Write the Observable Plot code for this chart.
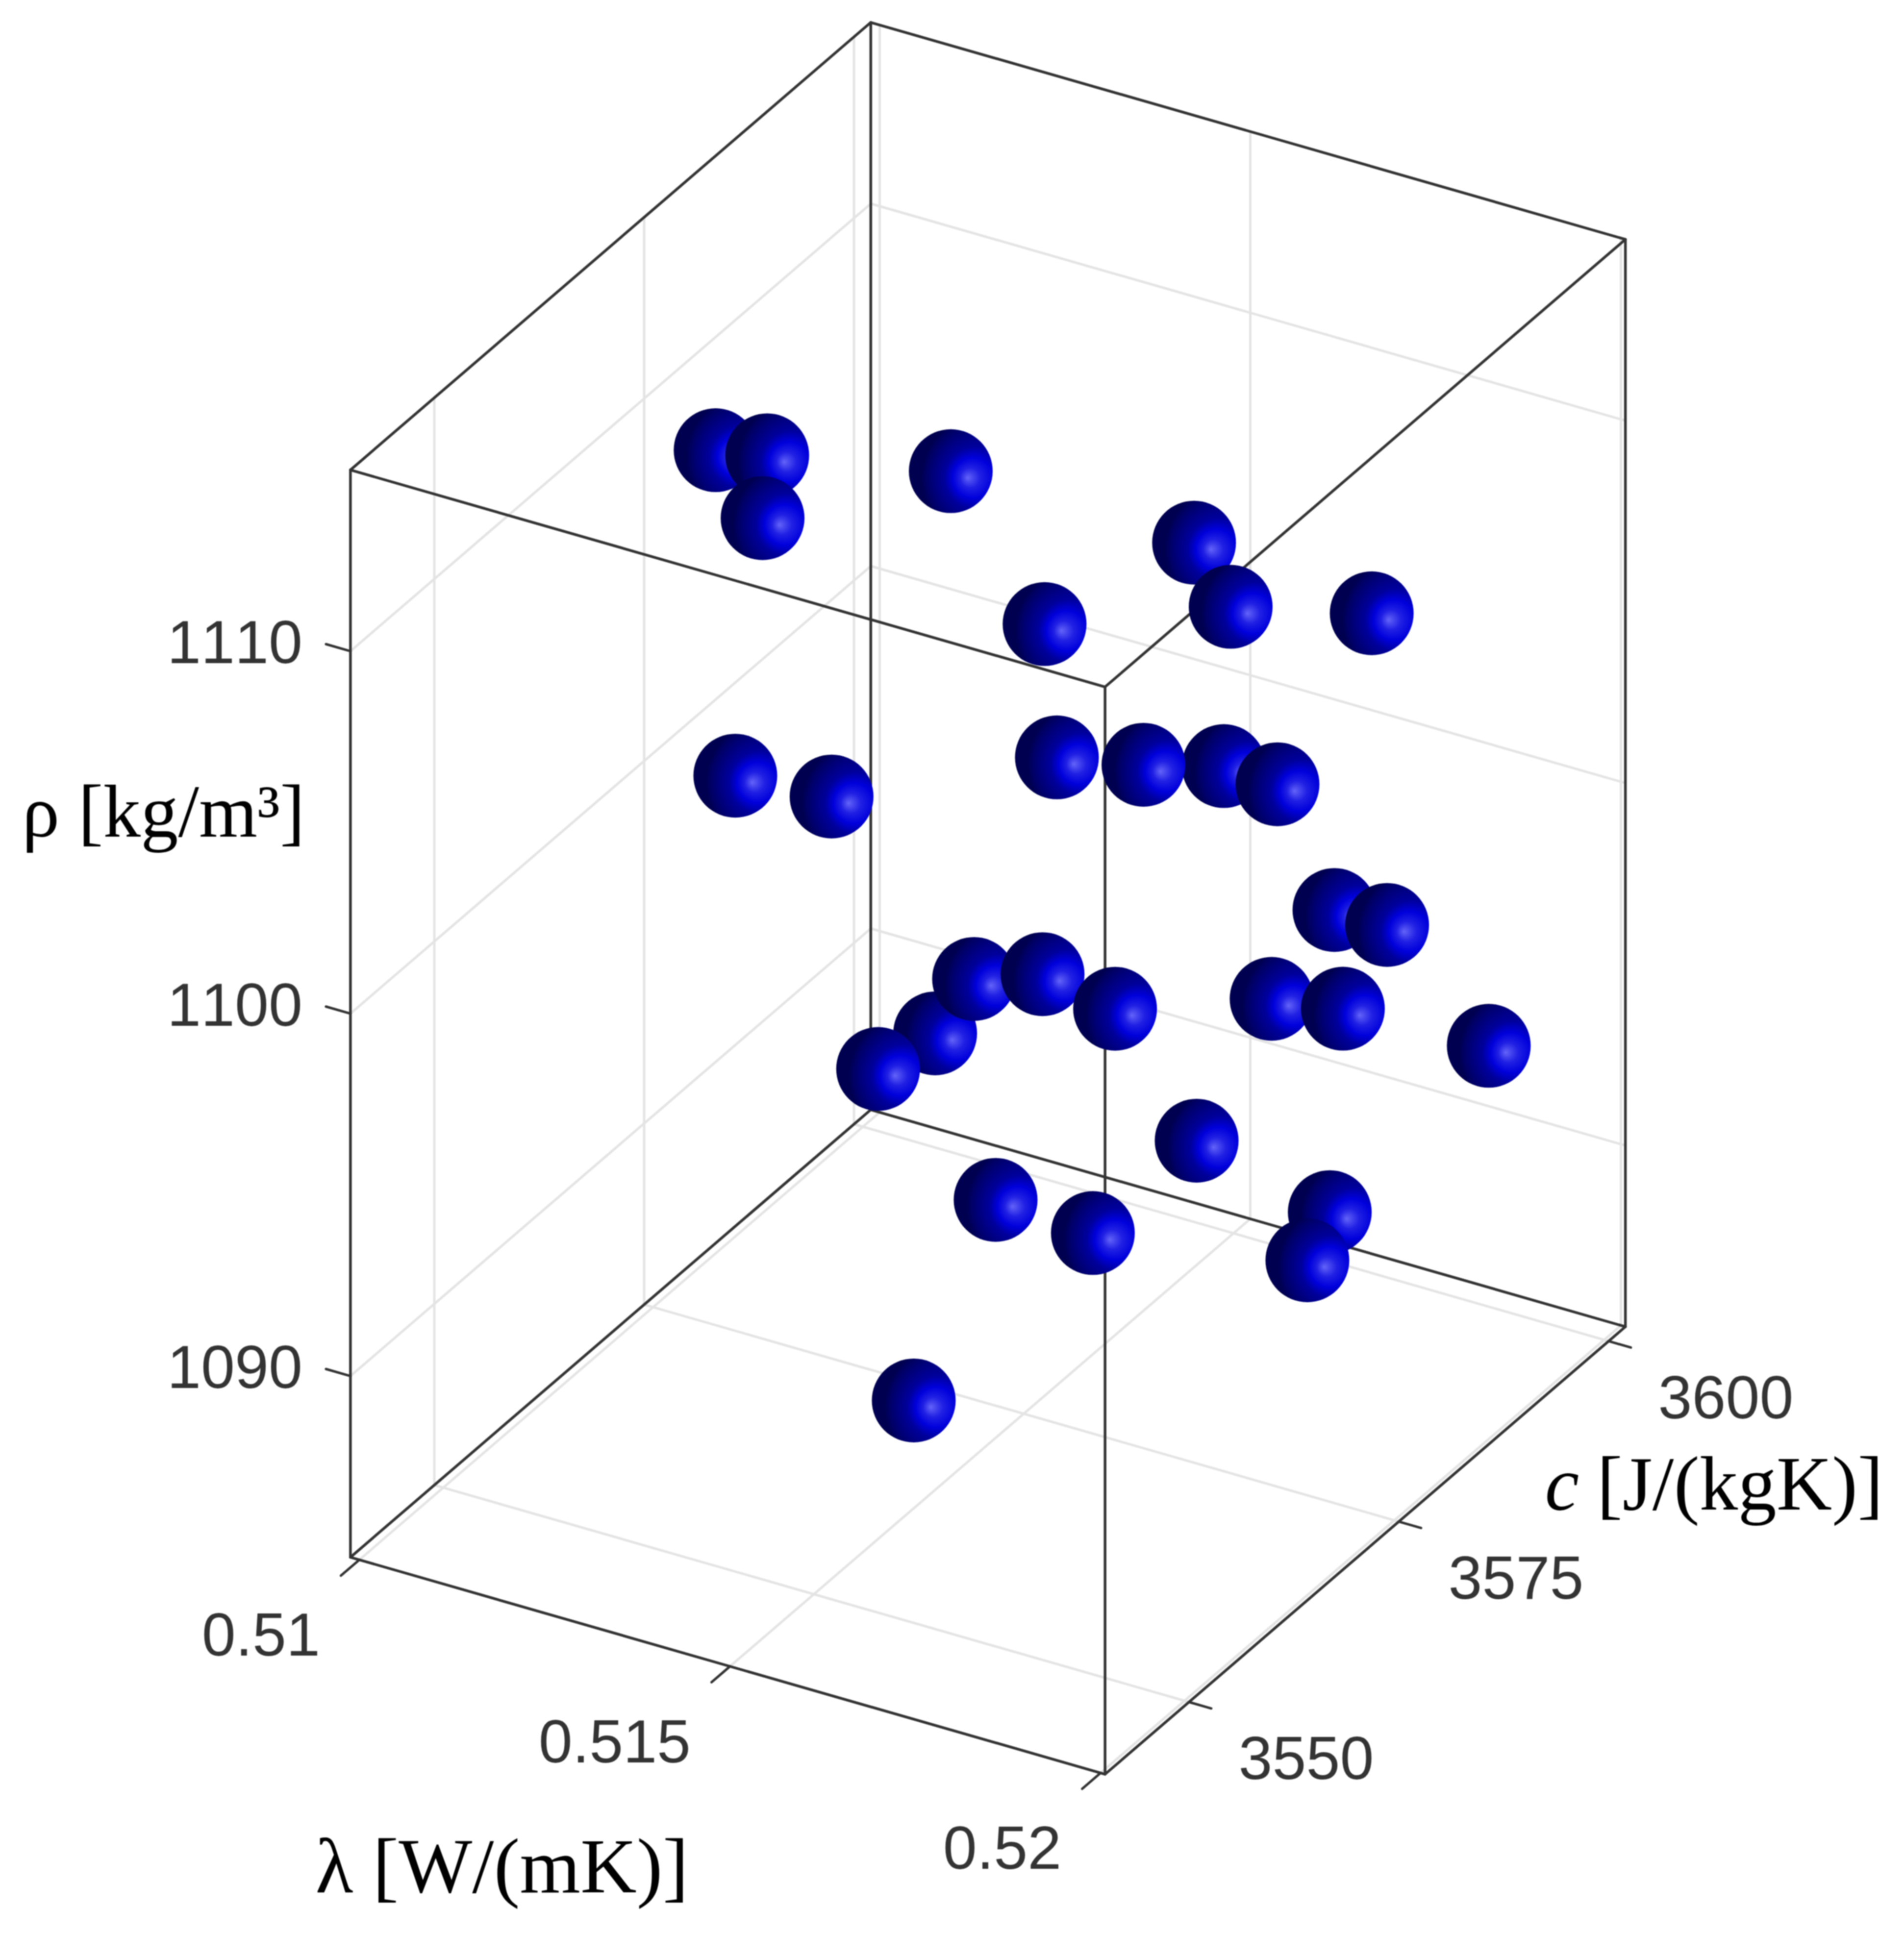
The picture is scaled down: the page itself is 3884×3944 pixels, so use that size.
<!DOCTYPE html>
<html>
<head>
<meta charset="utf-8">
<style>html,body{margin:0;padding:0;background:#fff}svg{display:block;filter:blur(1.2px)}svg text{font-kerning:none}</style>
<script src="https://cdn.jsdelivr.net/npm/d3@7"></script>
<script src="https://cdn.jsdelivr.net/npm/@observablehq/plot@0.6"></script>
</head>
<body>
<div id="chart"></div>
<script>
const lambda = [0.51141,0.51154,0.51227,0.51345,0.51560,0.51666,0.51777,0.51698,0.51658,0.51736,0.51888,0.51899,0.51394,0.51388,0.51772,0.51911,0.51573,0.51467,0.51650,0.51564,0.51861,0.51608,0.51874,0.51867,0.51722,0.51564,0.51899,0.51811,0.51894,0.51680];
const cp     = [3570,3575,3568,3580,3590,3585,3592,3560,3565,3578,3555,3570,3550,3562,3588,3582,3558,3572,3564,3552,3554,3595,3580,3598,3576,3566,3548,3584,3574,3546];
const rho    = [1110.47,1109.41,1109.50,1109.10,1106.40,1106.25,1105.33,1110.94,1106.03,1103.66,1109.17,1105.71,1106.96,1103.96,1097.91,1099.51,1099.31,1097.40,1100.20,1099.47,1102.48,1093.10,1097.38,1092.73,1093.64,1093.07,1097.71,1090.60,1091.75,1092.20];

const lambdaTicks = [0.51,0.515,0.52];
const lambdaLabels = ["0.51","0.515","0.52"];
const cTicks = [3550,3575,3600];
const cLabels = ["3550","3575","3600"];
const rhoTicks = [1090,1100,1110];
const rhoLabels = ["1090","1100","1110"];

const lambdaTitle = "λ [W/(mK)]";
const rhoTitle = "ρ [kg/m³]";
const cTitleVar = "c";
const cTitleUnit = "[J/(kgK)]";

// Axis limits of the 3-D box
const L0 = 0.50988, L1 = 0.52006, C0 = 3540, C1 = 3602, R0 = 1085, R1 = 1115;

// Orthographic view of the box
const ox = 284, oy = 1263;
const px = (l, c) => ox + (l - L0) / (L1 - L0) * 612 + (c - C0) / (C1 - C0) * 422;
const py = (l, c, r) => oy + (l - L0) / (L1 - L0) * 176 - (c - C0) / (C1 - C0) * 363 - (r - R0) / (R1 - R0) * 882;
const P = (l, c, r) => ({x: px(l, c), y: py(l, c, r)});

const seg = (id, ...pts) => pts.map(p => ({id, ...P(...p)}));

const box = [
  seg("b", [L0,C0,R0],[L1,C0,R0],[L1,C1,R0],[L0,C1,R0],[L0,C0,R0]),
  seg("t", [L0,C0,R1],[L1,C0,R1],[L1,C1,R1],[L0,C1,R1],[L0,C0,R1]),
  seg("v1",[L0,C0,R0],[L0,C0,R1]),
  seg("v2",[L1,C0,R0],[L1,C0,R1]),
  seg("v3",[L1,C1,R0],[L1,C1,R1]),
  seg("v4",[L0,C1,R0],[L0,C1,R1])
].flat();

const grid = [
  ...rhoTicks.map(r => seg("r"+r, [L0,C0,r],[L0,C1,r],[L1,C1,r])),
  ...cTicks.map(c => seg("c"+c, [L0,c,R1],[L0,c,R0],[L1,c,R0])),
  ...lambdaTicks.map(l => seg("l"+l, [l,C0,R0],[l,C1,R0],[l,C1,R1]))
].flat();

const ticks = [
  ...lambdaTicks.map(l => seg("tl"+l, [l,C0,R0],[l,C0-2.2,R0])),
  ...cTicks.map(c => seg("tc"+c, [L1,c,R0],[L1+0.0003,c,R0])),
  ...rhoTicks.map(r => seg("tr"+r, [L0,C0,r],[L0-0.00033,C0,r]))
].flat();

const points = lambda.map((l,i) => P(l, cp[i], rho[i]));

const S = 3944 / 1568;
const sans = "'Liberation Sans', Arial, sans-serif";
const serif = "'Liberation Serif', 'Times New Roman', serif";
const tickText = {fontFamily: sans, fontSize: 124, fill: "#333"};
const titleText = {fontFamily: serif, fill: "#000"};

const defs = () => d3.create("svg:defs").html(`
  <radialGradient id="sphere" cx="0.9" cy="0.58" r="0.75" fx="0.7" fy="0.58">
    <stop offset="0" stop-color="#6464fa"/>
    <stop offset="0.06" stop-color="#4a4af0"/>
    <stop offset="0.16" stop-color="#2020e4"/>
    <stop offset="0.32" stop-color="#0000dc"/>
    <stop offset="0.5" stop-color="#00009c"/>
    <stop offset="0.75" stop-color="#00007a"/>
    <stop offset="0.9" stop-color="#000064"/>
    <stop offset="1" stop-color="#000050"/>
  </radialGradient>`).node();

const chart = Plot.plot({
  width: 3884,
  height: 3944,
  margin: 0,
  style: {background: "#fff"},
  x: {domain: [0, 3884 / S], range: [0, 3884], axis: null},
  y: {domain: [0, 1568], range: [0, 3944], axis: null},
  marks: [
    defs,
    Plot.line(grid, {x: "x", y: "y", z: "id", stroke: "#e4e4e4", strokeWidth: 5}),
    Plot.line(box, {x: "x", y: "y", z: "id", stroke: "#333", strokeWidth: 5.5}),
    Plot.line(ticks, {x: "x", y: "y", z: "id", stroke: "#333", strokeWidth: 5}),
    Plot.text(lambdaTicks.map((l,i) => ({...P(l,C0,R0), t: lambdaLabels[i]})), {x: "x", y: "y", text: "t", textAnchor: "end", dx: -80, dy: 156, ...tickText}),
    Plot.text(cTicks.map((c,i) => ({...P(L1,c,R0), t: cLabels[i]})), {x: "x", y: "y", text: "t", textAnchor: "middle", dx: 239, dy: 118, ...tickText}),
    Plot.text(rhoTicks.map((r,i) => ({...P(L0,C0,r), t: rhoLabels[i]})), {x: "x", y: "y", text: "t", textAnchor: "end", dx: -98, dy: -15, ...tickText}),
    Plot.text([{...P(0.515,C0,R0), t: lambdaTitle}], {x: "x", y: "y", text: "t", textAnchor: "middle", dx: -465, dy: 410, fontSize: 159, ...titleText}),
    Plot.text([{...P(L0,C0,1100), t: rhoTitle}], {x: "x", y: "y", text: "t", textAnchor: "end", dx: -93, dy: -410, fontSize: 153, ...titleText}),
    Plot.text([{...P(L1,3575,R0), t: cTitleVar}], {x: "x", y: "y", text: "t", textAnchor: "start", dx: 298, dy: -75, fontSize: 157, fontStyle: "italic", ...titleText}),
    Plot.text([{...P(L1,3575,R0), t: cTitleUnit}], {x: "x", y: "y", text: "t", textAnchor: "start", dx: 404, dy: -75, fontSize: 157, ...titleText}),
    Plot.dot(points, {x: "x", y: "y", r: 85.5, fill: "url(#sphere)", stroke: "none"})
  ]
});
document.getElementById("chart").appendChild(chart);
</script>
</body>
</html>
